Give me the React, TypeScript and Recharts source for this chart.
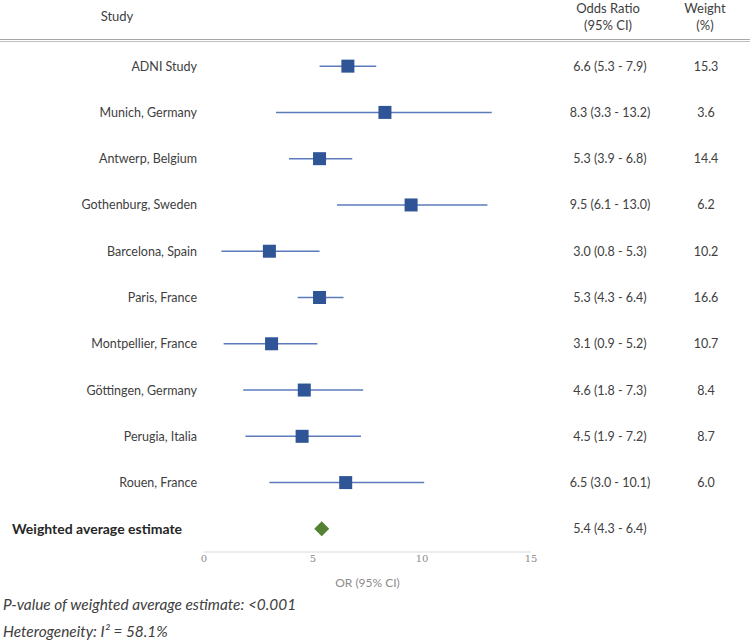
import React from 'react';
import { ScatterChart, Scatter, XAxis, YAxis, ErrorBar } from 'recharts';

const studies = ['ADNI Study', 'Munich, Germany', 'Antwerp, Belgium', 'Gothenburg, Sweden', 'Barcelona, Spain', 'Paris, France', 'Montpellier, France', 'Göttingen, Germany', 'Perugia, Italia', 'Rouen, France'];
const oddsRatio = [6.6, 8.3, 5.3, 9.5, 3.0, 5.3, 3.1, 4.6, 4.5, 6.5];
const ciLow = [5.3, 3.3, 3.9, 6.1, 0.8, 4.3, 0.9, 1.8, 1.9, 3.0];
const ciHigh = [7.9, 13.2, 6.8, 13.0, 5.3, 6.4, 5.2, 7.3, 7.2, 10.1];
const weights = [15.3, 3.6, 14.4, 6.2, 10.2, 16.6, 10.7, 8.4, 8.7, 6.0];
const pooledLabel = 'Weighted average estimate';
const pooledOR = 5.4;
const pooledLow = 4.3;
const pooledHigh = 6.4;
const xTicks = [0, 5, 10, 15];

const FONT = 'Lato, "Open Sans", sans-serif';
const TEXT = '#404040';
const FS = 12.5;

const studyData = studies.map((s, i) => ({
  row: i,
  or: oddsRatio[i],
  err: [+(oddsRatio[i] - ciLow[i]).toFixed(2), +(ciHigh[i] - oddsRatio[i]).toFixed(2)],
}));
const pooledData = [{ row: studies.length, or: pooledOR }];

const rowLabels = [...studies, pooledLabel];
const orTexts = [
  ...studies.map((_, i) => `${oddsRatio[i].toFixed(1)} (${ciLow[i].toFixed(1)} - ${ciHigh[i].toFixed(1)})`),
  `${pooledOR.toFixed(1)} (${pooledLow.toFixed(1)} - ${pooledHigh.toFixed(1)})`,
];
const weightTexts = [...weights.map((w) => w.toFixed(1)), ''];
const rowTicks = rowLabels.map((_, i) => i);

const RowTick = (props: any) => {
  const { x, y, payload } = props;
  const i = payload.value;
  const pooled = i === studies.length;
  return (
    <g>
      {pooled ? (
        <text x={x - 185} y={y} dy={5} textAnchor="start" fontFamily={FONT} fontSize={14} fontWeight={700} fill="#262626">
          {rowLabels[i]}
        </text>
      ) : (
        <text x={x} y={y} dy={4.5} textAnchor="end" fontFamily={FONT} fontSize={FS} fill={TEXT}>
          {rowLabels[i]}
        </text>
      )}
      <text x={x + 413} y={y} dy={4.5} textAnchor="middle" fontFamily={FONT} fontSize={FS} fill={TEXT}>
        {orTexts[i]}
      </text>
      <text x={x + 509} y={y} dy={4.5} textAnchor="middle" fontFamily={FONT} fontSize={FS} fill={TEXT}>
        {weightTexts[i]}
      </text>
    </g>
  );
};

const SquareShape = (props: any) => {
  const { cx, cy } = props;
  const s = 13;
  return <rect x={cx - s / 2} y={cy - s / 2} width={s} height={s} fill="#2F5597" />;
};

const DiamondShape = (props: any) => {
  const { cx, cy } = props;
  const r = 7.5;
  return <polygon points={`${cx},${cy - r} ${cx + r},${cy} ${cx},${cy + r} ${cx - r},${cy}`} fill="#548235" />;
};

export default function App() {
  return (
    <div style={{ position: 'absolute', left: 0, top: 0, width: 750, height: 641, background: '#fff' }}>
      <ScatterChart width={750} height={641} margin={{ top: 43, right: 219, left: 0, bottom: 49 }} style={{ overflow: 'visible' }}>
        <XAxis
          type="number"
          dataKey="or"
          domain={[0, 15]}
          ticks={xTicks}
          allowDataOverflow
          axisLine={{ stroke: '#d9d9d9' }}
          tickLine={false}
          tickSize={0}
          tickMargin={3}
          height={40}
          tick={{ fill: '#8c8c8c', fontSize: 10, fontFamily: '"DejaVu Serif", serif' }}
          label={{ value: 'OR (95% CI)', position: 'insideBottom', offset: 5, fill: '#8c8c8c', fontSize: 12, fontFamily: FONT }}
        />
        <YAxis
          type="number"
          dataKey="row"
          domain={[-0.5, 10.5]}
          reversed
          ticks={rowTicks}
          interval={0}
          width={204}
          axisLine={false}
          tickLine={false}
          tickSize={0}
          tickMargin={7}
          tick={<RowTick />}
        />
        <Scatter data={studyData} shape={<SquareShape />} isAnimationActive={false}>
          <ErrorBar dataKey="err" direction="x" width={0} stroke="#5B7BBD" strokeWidth={1.5} />
        </Scatter>
        <Scatter data={pooledData} shape={<DiamondShape />} isAnimationActive={false} />
      </ScatterChart>
      <svg width={750} height={641} style={{ position: 'absolute', left: 0, top: 0, pointerEvents: 'none' }}>
        <text x={117} y={21} textAnchor="middle" fontFamily={FONT} fontSize={13} fill={TEXT}>Study</text>
        <text x={608} y={13} textAnchor="middle" fontFamily={FONT} fontSize={13} fill={TEXT}>Odds Ratio</text>
        <text x={608} y={30} textAnchor="middle" fontFamily={FONT} fontSize={13} fill={TEXT}>(95% CI)</text>
        <text x={705} y={13} textAnchor="middle" fontFamily={FONT} fontSize={13} fill={TEXT}>Weight</text>
        <text x={705} y={30} textAnchor="middle" fontFamily={FONT} fontSize={13} fill={TEXT}>(%)</text>
        <line x1={0} x2={750} y1={39.5} y2={39.5} stroke="#a6a6a6" strokeWidth={1} />
        <line x1={0} x2={750} y1={41.5} y2={41.5} stroke="#bfbfbf" strokeWidth={1} />
        <text x={3} y={610} fontFamily={FONT} fontStyle="italic" fontSize={15.4} fill={TEXT}>P-value of weighted average estimate: &lt;0.001</text>
        <text x={3} y={637} fontFamily={FONT} fontStyle="italic" fontSize={15.4} fill={TEXT}>Heterogeneity: I² = 58.1%</text>
      </svg>
    </div>
  );
}
